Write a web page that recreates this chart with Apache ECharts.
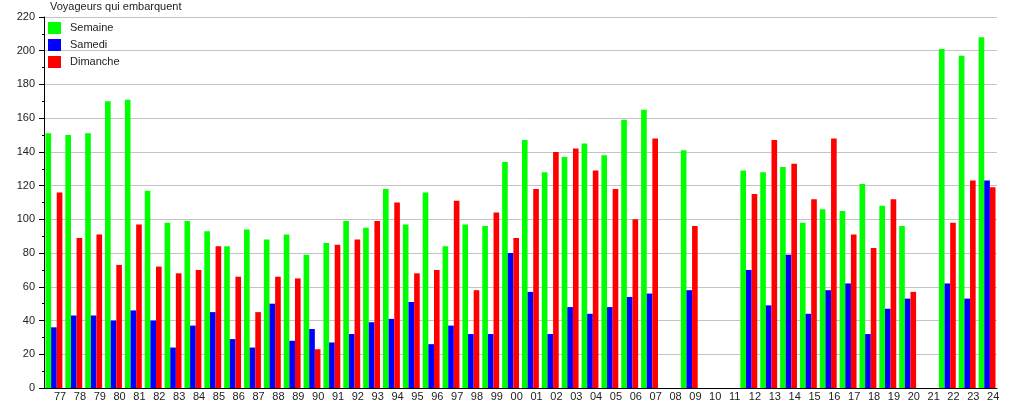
<!DOCTYPE html>
<html>
<head>
<meta charset="utf-8">
<script src="https://cdn.jsdelivr.net/npm/echarts@6/dist/echarts.min.js"></script>
<style>
html,body{margin:0;padding:0;background:#fff;}
#c{width:1015px;height:400px;}
</style>
</head>
<body>
<div id="c"></div>
<script>
const title = 'Voyageurs qui embarquent';
const categories = ['77','78','79','80','81','82','83','84','85','86','87','88','89','90','91','92','93','94','95','96','97','98','99','00','01','02','03','04','05','06','07','08','09','10','11','12','13','14','15','16','17','18','19','20','21','22','23','24'];
const semaine  = [151,150,151,170,171,117,98,99,93,84,94,88,91,79,86,99,95,118,97,116,84,97,96,134,147,128,137,145,138,159,165,null,141,null,null,129,128,131,98,106,105,121,108,96,null,201,197,208];
const samedi   = [36,43,43,40,46,40,24,37,45,29,24,50,28,35,27,32,39,41,51,26,37,32,32,80,57,32,48,44,48,54,56,null,58,null,null,70,49,79,44,58,62,32,47,53,null,62,53,123];
const dimanche = [116,89,91,73,97,72,68,70,84,66,45,66,65,23,85,88,99,110,68,70,111,58,104,89,118,140,142,129,118,100,148,null,96,null,null,115,147,133,112,148,91,83,112,57,null,98,123,119];
const seriesNames = ['Semaine','Samedi','Dimanche'];
const colors = ['#00ff00','#0000ff','#ff0000'];

const chart = echarts.init(document.getElementById('c'), null, {renderer:'canvas'});
const font = 'Liberation Sans, Arial, sans-serif';
chart.setOption({
  animation: false,
  backgroundColor: '#ffffff',
  color: colors,
  title: {
    text: title, left: 45, top: -4,
    textStyle: {fontFamily: font, fontSize: 11, fontWeight: 'normal', color: '#222'}
  },
  legend: {
    orient: 'vertical', left: 43, top: 17,
    itemWidth: 13, itemHeight: 12, itemGap: 5,
    icon: 'rect',
    data: seriesNames,
    textStyle: {fontFamily: font, fontSize: 11, color: '#222', padding: [0,0,0,4]}
  },
  grid: {left: 44, right: 18, top: 17, bottom: 12, containLabel: false, outerBoundsMode: 'none'},
  xAxis: {
    type: 'category',
    data: categories,
    axisLine: {show: true, lineStyle: {color: '#000', width: 1}},
    axisTick: {show: false},
    axisLabel: {interval: 0, align: 'left', margin: 3, fontFamily: font, fontSize: 11, color: '#222'},
    splitLine: {show: false}
  },
  yAxis: {
    type: 'value',
    min: 0, max: 220, interval: 20,
    axisLine: {show: true, lineStyle: {color: '#000', width: 1}},
    axisTick: {show: true, length: 5, lineStyle: {color: '#000'}},
    minorTick: {show: true, splitNumber: 2, length: 2, lineStyle: {color: '#000'}},
    axisLabel: {margin: 9, fontFamily: font, fontSize: 11, color: '#222'},
    splitLine: {show: true, lineStyle: {color: '#c4c4c4', width: 1}}
  },
  series: [
    {name: seriesNames[0], type: 'bar', data: semaine, barGap: '0%', barCategoryGap: '15%', itemStyle: {color: colors[0]}},
    {name: seriesNames[1], type: 'bar', data: samedi, barGap: '0%', barCategoryGap: '15%', itemStyle: {color: colors[1]}},
    {name: seriesNames[2], type: 'bar', data: dimanche, barGap: '0%', barCategoryGap: '15%', itemStyle: {color: colors[2]}}
  ]
});
</script>
</body>
</html>
